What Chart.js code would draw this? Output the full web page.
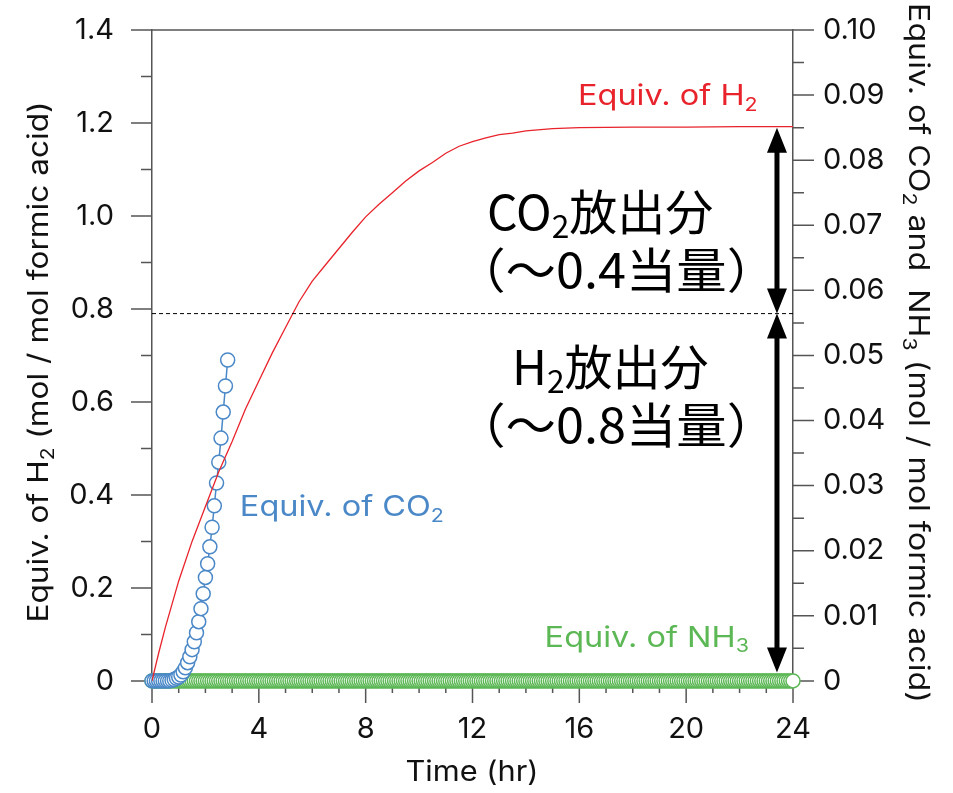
<!DOCTYPE html>
<html>
<head>
<meta charset="utf-8">
<script src="https://cdn.jsdelivr.net/npm/chart.js@4.4.1/dist/chart.umd.min.js"></script>
<style>
  html, body { margin: 0; padding: 0; background: #fff; }
</style>
</head>
<body>
<canvas id="chart" width="953" height="793"></canvas>
<script>
// H2 evolved (left axis, mol / mol formic acid)
const h2Hours = [0, 0.25, 0.5, 0.75, 1, 1.5, 2, 2.5, 3, 3.5, 4, 4.5, 5, 5.5, 6, 6.5, 7, 7.5, 8, 8.5, 9, 9.5,
                 10, 10.5, 11, 11.5, 12, 12.5, 13, 13.5, 14, 15, 16, 18, 20, 22, 24];
const h2Equiv = [0, 0.06, 0.115, 0.165, 0.215, 0.3, 0.375, 0.45, 0.515, 0.585, 0.645, 0.705, 0.76, 0.815, 0.86, 0.895,
                 0.93, 0.965, 0.998, 1.025, 1.05, 1.075, 1.097, 1.115, 1.135, 1.15, 1.16, 1.168, 1.175, 1.178, 1.183,
                 1.188, 1.19, 1.191, 1.191, 1.192, 1.192];

// CO2 evolved (right axis), sampled every 5 min
const co2Minutes = [0, 5, 10, 15, 20, 25, 30, 35, 40, 45, 50, 55, 60, 65, 70, 75, 80, 85, 90, 95, 100, 105,
                    110, 115, 120, 125, 130, 135, 140, 145, 150, 155, 160, 165, 170];
const co2Equiv = [0, 0, 0, 0, 0, 0, 0, 0, 0, 0.0001, 0.0002, 0.0004, 0.0006, 0.0009, 0.0014, 0.002, 0.0028,
                  0.0037, 0.0048, 0.006, 0.0074, 0.0091, 0.0111, 0.0134, 0.0159, 0.018, 0.0206, 0.0236, 0.0269,
                  0.0304, 0.0336, 0.0373, 0.0413, 0.0453, 0.0493];

// NH3 evolved (right axis), sampled every 5 min over 24 h
const nh3Minutes = [
  0, 5, 10, 15, 20, 25, 30, 35, 40, 45, 50, 55,
  60, 65, 70, 75, 80, 85, 90, 95, 100, 105, 110, 115,
  120, 125, 130, 135, 140, 145, 150, 155, 160, 165, 170, 175,
  180, 185, 190, 195, 200, 205, 210, 215, 220, 225, 230, 235,
  240, 245, 250, 255, 260, 265, 270, 275, 280, 285, 290, 295,
  300, 305, 310, 315, 320, 325, 330, 335, 340, 345, 350, 355,
  360, 365, 370, 375, 380, 385, 390, 395, 400, 405, 410, 415,
  420, 425, 430, 435, 440, 445, 450, 455, 460, 465, 470, 475,
  480, 485, 490, 495, 500, 505, 510, 515, 520, 525, 530, 535,
  540, 545, 550, 555, 560, 565, 570, 575, 580, 585, 590, 595,
  600, 605, 610, 615, 620, 625, 630, 635, 640, 645, 650, 655,
  660, 665, 670, 675, 680, 685, 690, 695, 700, 705, 710, 715,
  720, 725, 730, 735, 740, 745, 750, 755, 760, 765, 770, 775,
  780, 785, 790, 795, 800, 805, 810, 815, 820, 825, 830, 835,
  840, 845, 850, 855, 860, 865, 870, 875, 880, 885, 890, 895,
  900, 905, 910, 915, 920, 925, 930, 935, 940, 945, 950, 955,
  960, 965, 970, 975, 980, 985, 990, 995, 1000, 1005, 1010, 1015,
  1020, 1025, 1030, 1035, 1040, 1045, 1050, 1055, 1060, 1065, 1070, 1075,
  1080, 1085, 1090, 1095, 1100, 1105, 1110, 1115, 1120, 1125, 1130, 1135,
  1140, 1145, 1150, 1155, 1160, 1165, 1170, 1175, 1180, 1185, 1190, 1195,
  1200, 1205, 1210, 1215, 1220, 1225, 1230, 1235, 1240, 1245, 1250, 1255,
  1260, 1265, 1270, 1275, 1280, 1285, 1290, 1295, 1300, 1305, 1310, 1315,
  1320, 1325, 1330, 1335, 1340, 1345, 1350, 1355, 1360, 1365, 1370, 1375,
  1380, 1385, 1390, 1395, 1400, 1405, 1410, 1415, 1420, 1425, 1430, 1435,
  1440];
const nh3Equiv = [
  0, 0, 0, 0, 0, 0, 0, 0, 0, 0, 0, 0,  0, 0, 0, 0, 0, 0, 0, 0, 0, 0, 0, 0,
  0, 0, 0, 0, 0, 0, 0, 0, 0, 0, 0, 0,  0, 0, 0, 0, 0, 0, 0, 0, 0, 0, 0, 0,
  0, 0, 0, 0, 0, 0, 0, 0, 0, 0, 0, 0,  0, 0, 0, 0, 0, 0, 0, 0, 0, 0, 0, 0,
  0, 0, 0, 0, 0, 0, 0, 0, 0, 0, 0, 0,  0, 0, 0, 0, 0, 0, 0, 0, 0, 0, 0, 0,
  0, 0, 0, 0, 0, 0, 0, 0, 0, 0, 0, 0,  0, 0, 0, 0, 0, 0, 0, 0, 0, 0, 0, 0,
  0, 0, 0, 0, 0, 0, 0, 0, 0, 0, 0, 0,  0, 0, 0, 0, 0, 0, 0, 0, 0, 0, 0, 0,
  0, 0, 0, 0, 0, 0, 0, 0, 0, 0, 0, 0,  0, 0, 0, 0, 0, 0, 0, 0, 0, 0, 0, 0,
  0, 0, 0, 0, 0, 0, 0, 0, 0, 0, 0, 0,  0, 0, 0, 0, 0, 0, 0, 0, 0, 0, 0, 0,
  0, 0, 0, 0, 0, 0, 0, 0, 0, 0, 0, 0,  0, 0, 0, 0, 0, 0, 0, 0, 0, 0, 0, 0,
  0, 0, 0, 0, 0, 0, 0, 0, 0, 0, 0, 0,  0, 0, 0, 0, 0, 0, 0, 0, 0, 0, 0, 0,
  0, 0, 0, 0, 0, 0, 0, 0, 0, 0, 0, 0,  0, 0, 0, 0, 0, 0, 0, 0, 0, 0, 0, 0,
  0, 0, 0, 0, 0, 0, 0, 0, 0, 0, 0, 0,  0, 0, 0, 0, 0, 0, 0, 0, 0, 0, 0, 0,
  0];

// levels marked by the arrows
const h2Level = 0.79;
const totalLevel = 1.19;
const arrowBottom = 0.018;
const arrowHour = 23.4;

// ticks
const xTicks = [0, 4, 8, 12, 16, 20, 24];
const xMinorTicks = [1, 2, 3, 5, 6, 7, 9, 10, 11, 13, 14, 15, 17, 18, 19, 21, 22, 23];
const leftTicks = [0, 0.2, 0.4, 0.6, 0.8, 1.0, 1.2, 1.4];
const leftMinorTicks = [0.1, 0.3, 0.5, 0.7, 0.9, 1.1, 1.3];
const rightTicks = [0, 0.01, 0.02, 0.03, 0.04, 0.05, 0.06, 0.07, 0.08, 0.09, 0.10];
const rightMinorTicks = [0.005, 0.015, 0.025, 0.035, 0.045, 0.055, 0.065, 0.075, 0.085, 0.095];

const FONT = 'Inter, "Liberation Sans", Arial, sans-serif';
const JP_FONT = '"Noto Sans CJK JP", "Noto Sans", sans-serif';
const RED = '#e8232b';
const BLUE = '#4a88c7';
const GREEN = '#5cb755';
const AXIS = '#555';
const TEXT = '#111';

const leftMin = -0.011;
const leftMax = 1.4;
const ratio = 14; // left / right

function toXY(xs, ys, scale) {
    return xs.map((x, i) => ({ x: x / scale, y: ys[i] }));
}

// text with subscripts, centred or left aligned, optional rotation and stretch
function drawRich(ctx, parts, x, y, size, color, family, angle, align, stretch) {
    ctx.save();
    ctx.translate(x, y);
    ctx.rotate(angle || 0);
    ctx.scale(stretch || 1, 1);
    ctx.fillStyle = color;
    ctx.textBaseline = 'middle';
    ctx.textAlign = 'left';
    let widths = parts.map(p => {
        ctx.font = (p.sub ? size * 0.66 : size) + 'px ' + family;
        return ctx.measureText(p.t).width;
    });
    let total = widths.reduce((a, b) => a + b, 0);
    let cx = align === 'left' ? 0 : -total / 2;
    parts.forEach((p, i) => {
        ctx.font = (p.sub ? size * 0.66 : size) + 'px ' + family;
        ctx.fillText(p.t, cx, p.sub ? size * 0.3 : 0);
        cx += widths[i];
    });
    ctx.restore();
}

function doubleArrow(ctx, x, yTop, yBottom) {
    const head = 25, half = 10;
    ctx.save();
    ctx.fillStyle = '#000';
    ctx.strokeStyle = '#000';
    ctx.lineWidth = 5;
    ctx.beginPath();
    ctx.moveTo(x, yTop + head - 2);
    ctx.lineTo(x, yBottom - head + 2);
    ctx.stroke();
    ctx.beginPath();
    ctx.moveTo(x, yTop);
    ctx.lineTo(x - half, yTop + head);
    ctx.lineTo(x + half, yTop + head);
    ctx.closePath();
    ctx.moveTo(x, yBottom);
    ctx.lineTo(x - half, yBottom - head);
    ctx.lineTo(x + half, yBottom - head);
    ctx.closePath();
    ctx.fill();
    ctx.restore();
}

const tickMarks = {
    id: 'tickMarks',
    beforeDatasetsDraw(chart) {
        const ctx = chart.ctx;
        const a = chart.chartArea;
        const sx = chart.scales.x, sy = chart.scales.y, sy2 = chart.scales.y2;
        ctx.save();
        ctx.strokeStyle = AXIS;
        ctx.lineWidth = 1.5;
        ctx.beginPath();
        leftTicks.forEach(v => { const p = sy.getPixelForValue(v); ctx.moveTo(a.left - 21, p); ctx.lineTo(a.left, p); });
        leftMinorTicks.forEach(v => { const p = sy.getPixelForValue(v); ctx.moveTo(a.left - 11, p); ctx.lineTo(a.left, p); });
        rightTicks.forEach(v => { const p = sy2.getPixelForValue(v); ctx.moveTo(a.right, p); ctx.lineTo(a.right + 21, p); });
        rightMinorTicks.forEach(v => { const p = sy2.getPixelForValue(v); ctx.moveTo(a.right, p); ctx.lineTo(a.right + 11, p); });
        xTicks.forEach(v => { const p = sx.getPixelForValue(v); ctx.moveTo(p, a.bottom); ctx.lineTo(p, a.bottom + 17); });
        xMinorTicks.forEach(v => { const p = sx.getPixelForValue(v); ctx.moveTo(p, a.bottom); ctx.lineTo(p, a.bottom + 7); });
        ctx.moveTo(a.left, a.top);
        ctx.lineTo(a.right, a.top);
        ctx.stroke();
        ctx.restore();

        // axis titles
        drawRich(ctx, [{ t: 'Equiv. of H' }, { t: '2', sub: true }, { t: ' (mol / mol formic acid)' }],
            40, 362, 28, TEXT, FONT, -Math.PI / 2, 'center', 1.13);
        drawRich(ctx, [{ t: 'Equiv. of CO' }, { t: '2', sub: true }, { t: ' and  NH' }, { t: '3', sub: true },
            { t: ' (mol / mol formic acid)' }], 917, 353, 28, TEXT, FONT, Math.PI / 2, 'center', 1.15);
        drawRich(ctx, [{ t: 'Time (hr)' }], 472, 773, 28, TEXT, FONT, 0, 'center', 1.1);
    }
};

const annotations = {
    id: 'annotations',
    afterDatasetsDraw(chart) {
        const ctx = chart.ctx;
        const sx = chart.scales.x, sy = chart.scales.y;
        const X = v => sx.getPixelForValue(v);
        const Y = v => sy.getPixelForValue(v);

        const ax = X(arrowHour);
        doubleArrow(ctx, ax, Y(totalLevel), Y(h2Level));
        doubleArrow(ctx, ax, Y(h2Level), Y(arrowBottom));

        drawRich(ctx, [{ t: 'Equiv. of H' }, { t: '2', sub: true }], X(15.95), Y(1.256), 28, RED, FONT, 0, 'left', 1.16);
        drawRich(ctx, [{ t: 'Equiv. of CO' }, { t: '2', sub: true }], X(3.29), Y(0.372), 28, BLUE, FONT, 0, 'left', 1.16);
        drawRich(ctx, [{ t: 'Equiv. of NH' }, { t: '3', sub: true }], X(14.7), Y(0.092), 28, GREEN, FONT, 0, 'left', 1.16);

        drawRich(ctx, [{ t: 'CO' }, { t: '2', sub: true }, { t: '放出分' }], X(12.54), Y(1.009), 48, '#000', JP_FONT, 0, 'left');
        drawRich(ctx, [{ t: '（〜0.4当量）' }], X(11.35), Y(0.884), 48, '#000', JP_FONT, 0, 'left', 1.05);
        drawRich(ctx, [{ t: 'H' }, { t: '2', sub: true }, { t: '放出分' }], X(13.48), Y(0.675), 48, '#000', JP_FONT, 0, 'left');
        drawRich(ctx, [{ t: '（〜0.8当量）' }], X(11.35), Y(0.551), 48, '#000', JP_FONT, 0, 'left', 1.05);
    }
};

function fixVertical(width) {
    return axis => {
        axis.width = width;
        axis.paddingTop = 0;
        axis.paddingBottom = 0;
    };
}

new Chart(document.getElementById('chart').getContext('2d'), {
    type: 'line',
    data: {
        datasets: [
            {
                label: 'split',
                data: [{ x: 0, y: h2Level }, { x: 24, y: h2Level }],
                yAxisID: 'y',
                borderColor: '#000',
                borderWidth: 1,
                borderDash: [4, 3],
                pointRadius: 0
            },
            {
                label: 'Equiv. of H2',
                data: toXY(h2Hours, h2Equiv, 1),
                yAxisID: 'y',
                borderColor: RED,
                borderWidth: 1.3,
                pointRadius: 0,
                tension: 0
            },
            {
                label: 'Equiv. of CO2',
                data: toXY(co2Minutes, co2Equiv, 60),
                yAxisID: 'y2',
                borderColor: BLUE,
                borderWidth: 1.5,
                pointRadius: 7,
                pointBorderWidth: 1.5,
                pointBorderColor: BLUE,
                pointBackgroundColor: '#fff',
                clip: false
            },
            {
                label: 'Equiv. of NH3',
                data: toXY(nh3Minutes, nh3Equiv, 60),
                yAxisID: 'y2',
                showLine: false,
                pointRadius: 7,
                pointBorderWidth: 1.5,
                pointBorderColor: GREEN,
                pointBackgroundColor: '#fff',
                clip: false
            }
        ]
    },
    options: {
        responsive: false,
        animation: false,
        devicePixelRatio: 1,
        layout: { padding: { top: 30, left: 0, right: 0, bottom: 0 } },
        plugins: { legend: { display: false }, tooltip: { enabled: false } },
        scales: {
            x: {
                type: 'linear',
                min: 0,
                max: 24,
                afterBuildTicks: axis => { axis.ticks = xTicks.map(v => ({ value: v })); },
                afterFit: axis => { axis.height = 107; axis.paddingLeft = 0; axis.paddingRight = 0; },
                grid: { display: false },
                border: { display: false },
                ticks: { font: { family: FONT, size: 29 }, color: TEXT, padding: 18, maxRotation: 0 }
            },
            y: {
                position: 'left',
                min: leftMin,
                max: leftMax,
                afterBuildTicks: axis => { axis.ticks = leftTicks.map(v => ({ value: v })); },
                afterFit: fixVertical(152),
                grid: { display: false },
                border: { display: true, color: AXIS, width: 1.5 },
                ticks: {
                    font: { family: FONT, size: 29 }, color: TEXT, padding: 30,
                    callback: v => v === 0 ? '0' : v.toFixed(1)
                }
            },
            y2: {
                position: 'right',
                min: leftMin / ratio,
                max: leftMax / ratio,
                afterBuildTicks: axis => { axis.ticks = rightTicks.map(v => ({ value: v })); },
                afterFit: fixVertical(160),
                grid: { display: false },
                border: { display: true, color: AXIS, width: 1.5 },
                ticks: {
                    font: { family: FONT, size: 29 }, color: TEXT, padding: 22,
                    callback: v => v === 0 ? '0' : v.toFixed(2)
                }
            }
        }
    },
    plugins: [tickMarks, annotations]
});
</script>
</body>
</html>
